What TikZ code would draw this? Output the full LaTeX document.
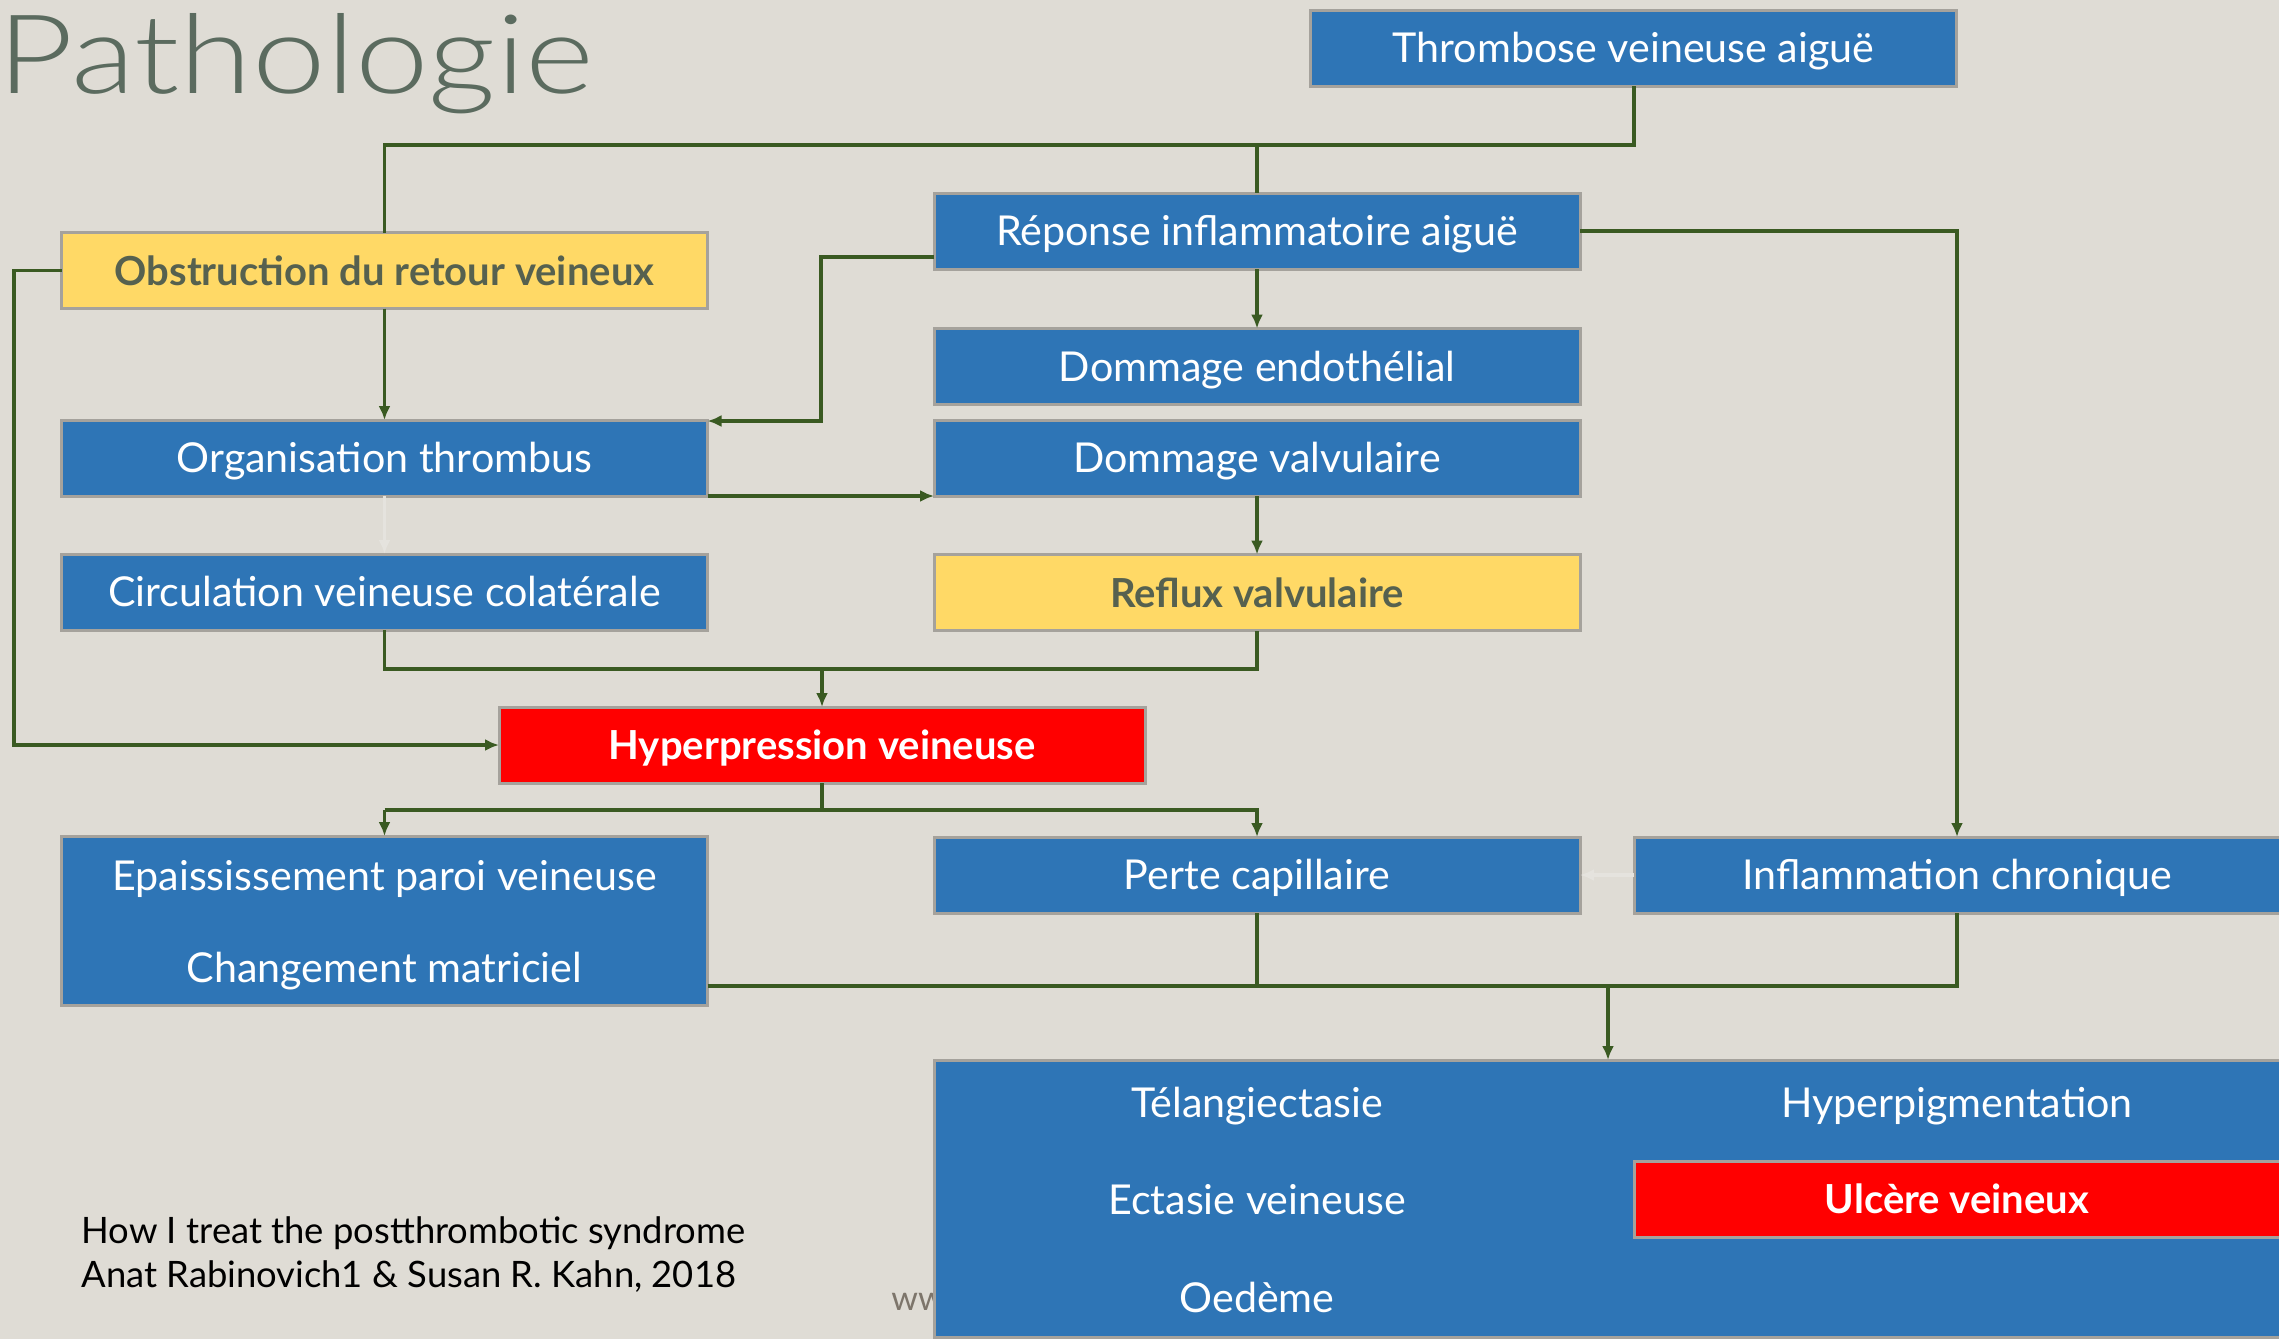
\documentclass[tikz,border=0pt]{standalone}
\usepackage{fontspec}
\setmainfont{Lato}
\newfontfamily\titlefont{Lato Light}
\usetikzlibrary{arrows.meta}

\definecolor{bg}{HTML}{DFDCD5}
\definecolor{boxblue}{HTML}{2E75B6}
\definecolor{boxyellow}{HTML}{FFD966}
\definecolor{boxred}{HTML}{FF0000}
\definecolor{boxedge}{HTML}{A5A29C}
\definecolor{link}{HTML}{3A5A22}
\definecolor{titlegrey}{HTML}{5B6B5F}
\definecolor{darktext}{HTML}{56614F}
\definecolor{faint}{HTML}{E5E3DE}
\definecolor{urlgrey}{HTML}{7D756B}

\begin{document}
\begin{tikzpicture}[x=0.5pt,y=-0.5pt,
  txt/.style={font=\fontsize{20.6}{24}\selectfont, text height=16pt, text depth=1.2pt},
  box/.style={rectangle, draw=boxedge, line width=1.5pt, inner sep=0pt, outer sep=0pt,
    minimum width=323pt, minimum height=38pt, txt},
  bluebox/.style={box, fill=boxblue, text=white},
  yellowbox/.style={box, fill=boxyellow, text=darktext, font=\fontsize{20}{24}\selectfont\bfseries},
  redbox/.style={box, fill=boxred, text=white, font=\fontsize{20}{24}\selectfont\bfseries},
  label/.style={inner sep=0pt, text=white, txt},
  wire/.style={draw=link, line width=1.6pt},
  flow/.style={wire, -{Latex[length=7pt,width=6pt]}},
  ghost/.style={draw=faint, line width=1.6pt, -{Latex[length=7pt,width=6pt]}}
]
\useasboundingbox (0,0) rectangle (2279,1339);
\clip (0,0) rectangle (2279,1339);
\fill[bg] (0,0) rectangle (2279,1339);

% heading
\node[anchor=base west, inner sep=0pt, text=titlegrey, font=\titlefont\fontsize{55}{60}\selectfont] (title) at (-3,93)
  {\scalebox{1.2}[1]{Pathologie}};

% source reference
\node[anchor=base west, inner sep=0pt, align=left, font=\fontsize{18.2}{22}\selectfont] (cite) at (81,1287)
  {How I treat the postthrombotic syndrome\\Anat Rabinovich1 \& Susan R. Kahn, 2018};
\node[anchor=base west, inner sep=0pt, text=urlgrey, font=\fontsize{17}{20}\selectfont] (url) at (891,1310) {ww};

% boxes
\node[bluebox] (thr) at (1633.5,48) {Thrombose veineuse aiguë};
\node[bluebox] (rep) at (1257,231) {Réponse inflammatoire aiguë};
\node[yellowbox] (obs) at (384.5,270.5) {Obstruction du retour veineux};
\node[bluebox] (endo) at (1257,366.5) {Dommage endothélial};
\node[bluebox] (org) at (384.5,458) {Organisation thrombus};
\node[bluebox] (val) at (1257,458) {Dommage valvulaire};
\node[bluebox] (cir) at (384.5,592) {Circulation veineuse colatérale};
\node[yellowbox] (ref) at (1257,592.5) {Reflux valvulaire};
\node[redbox] (hyp) at (822,745) {Hyperpression veineuse};
\node[bluebox] (per) at (1257,875) {Perte capillaire};
\node[bluebox] (inf) at (1957,875) {Inflammation chronique};

% wall changes: two lines sharing one frame
\node[bluebox, minimum height=84.5pt] (wall) at (384.5,920.5) {};
\node[label] (epa) at (384.5,876) {Epaississement paroi veineuse};
\node[label] (chg) at (384.5,967.5) {Changement matriciel};

% clinical signs panel
\node[bluebox, minimum width=678pt, minimum height=138.5pt] (sym) at (1612,1198.5) {};
\node[label] (tel) at (1257,1103) {Télangiectasie};
\node[label] (hpg) at (1957,1103) {Hyperpigmentation};
\node[label] (ect) at (1257,1200) {Ectasie veineuse};
\node[label] (oed) at (1257,1297.5) {Oedème};
\node[redbox] (ulc) at (1957,1199) {Ulcère veineux};

% connectors
\coordinate (top) at (1634,145);
\draw[wire] (thr.south -| top) -- (top) -- (obs.north |- top) -- (obs.north);
\draw[wire] (rep.north |- top) -- (rep.north);
\draw[flow] (rep.south) -- (endo.north);
\draw[flow] (obs.south) -- (org.north);
\draw[ghost] (org.south) -- (cir.north);
\draw[flow] (val.south) -- (ref.north);

\coordinate (repw) at (934,257);
\draw[flow] (repw) -- (821,257) -- (821,421) -- (org.north east |- 0,421);
\draw[flow] (org.south east) -- (val.south west);

\coordinate (rail) at (14,0);
\draw[flow] (obs.west) -- (obs.west -| rail) -- (hyp.west -| rail) -- (hyp.west);

\coordinate (mid) at (822,669);
\draw[wire] (cir.south) -- (cir.south |- mid) -- (ref.south |- mid) -- (ref.south);
\draw[flow] (mid) -- (hyp.north);

\coordinate (split) at (822,810);
\draw[wire] (hyp.south) -- (split);
\draw[flow] (wall.north |- split) -- (wall.north);
\draw[flow] (wall.north |- split) -- (per.north |- split) -- (per.north);

\draw[flow] (rep.east) -- (inf.north |- rep.east) -- (inf.north);
\draw[ghost] (inf.west) -- (per.east);

\coordinate (join) at (1608,986);
\draw[wire] (wall.east |- join) -- (join);
\draw[wire] (per.south) -- (per.south |- join) -- (join);
\draw[wire] (inf.south) -- (inf.south |- join) -- (join);
\draw[flow] (join) -- (join |- sym.north);
\end{tikzpicture}
\end{document}
